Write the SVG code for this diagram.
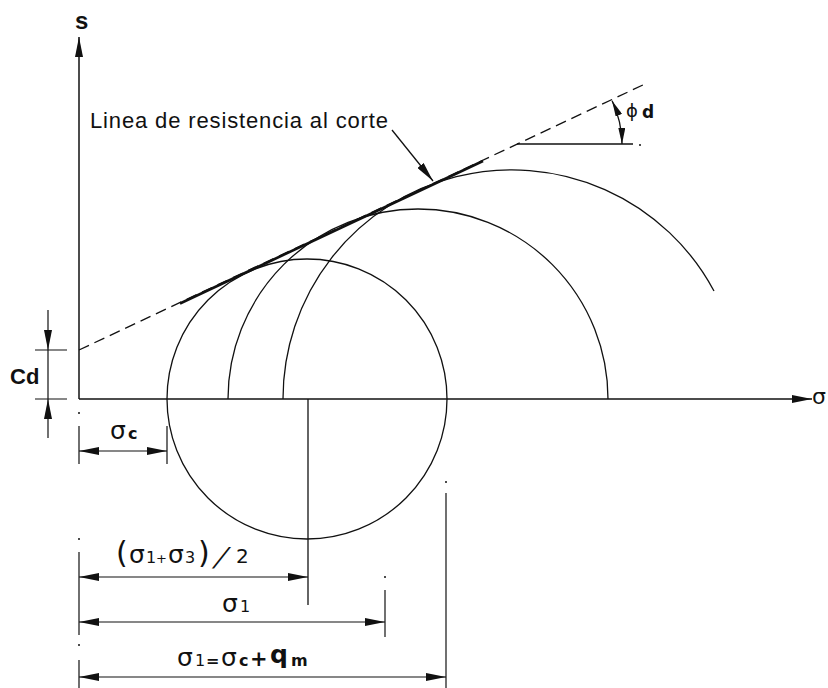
<svg xmlns="http://www.w3.org/2000/svg" width="828" height="688" viewBox="0 0 828 688">
<defs>
<marker id="ah" viewBox="0 0 20 8" refX="20" refY="4" markerWidth="20" markerHeight="8" markerUnits="userSpaceOnUse" orient="auto-start-reverse"><path d="M0,0 L20,4 L0,8 Z" fill="#111"/></marker>
<marker id="ahs" viewBox="0 0 16 7" refX="16" refY="3.5" markerWidth="16" markerHeight="7" markerUnits="userSpaceOnUse" orient="auto-start-reverse"><path d="M0,0 L16,3.5 L0,7 Z" fill="#111"/></marker>
<style>
.ln{stroke:#111;stroke-width:1.3;fill:none}
.ax{stroke:#111;stroke-width:1.5;fill:none}
.dim{stroke:#111;stroke-width:1.2;fill:none;marker-start:url(#ah);marker-end:url(#ah)}
.ext{stroke:#111;stroke-width:1.2;fill:none}
.dot{fill:#111}
.t{font-family:"Liberation Sans",Arial,sans-serif;fill:#111}
.b{font-weight:bold}
.g{font-family:"DejaVu Sans","Liberation Sans",sans-serif;fill:#111}
.gb{font-family:"DejaVu Sans","Liberation Sans",sans-serif;fill:#111;font-weight:bold}
</style>
</defs>
<rect width="828" height="688" fill="#fff"/>

<g id="axes">
<path class="ax" d="M79,399 L79,37" marker-end="url(#ah)"/>
<path class="ax" d="M79,399 L812,399" marker-end="url(#ah)"/>
<text class="t b" x="75" y="29" font-size="24">s</text>
<text class="g" x="812" y="404" font-size="22">σ</text>
</g>

<g id="circles">
<circle class="ln" cx="307" cy="399" r="140"/>
<path class="ln" d="M228,399 A190,190 0 0 1 608,399"/>
<path class="ln" d="M283,399 A229,229 0 0 1 714,291"/>
<path class="ln" d="M308,399 L308,605"/>
</g>

<g id="strength-line">
<path class="ln" d="M79,350 L645,84" stroke-dasharray="11,6"/>
<path d="M180,303.5 L483,161" stroke="#111" stroke-width="2.6" fill="none"/>
<text class="t" x="90" y="128" font-size="22" textLength="298" lengthAdjust="spacing">Linea de resistencia al corte</text>
<path class="ln" d="M392,130 L433,181" marker-end="url(#ah)"/>
</g>

<g id="angle-phi">
<path class="ln" d="M517,144 L633,144"/>
<circle class="dot" cx="640" cy="145" r="1"/>
<path class="ln" d="M612.1,100.8 A104,104 0 0 1 622,144" marker-start="url(#ahs)" marker-end="url(#ahs)"/>
<text class="g" x="626" y="117" font-size="18">ϕ</text>
<text class="gb" x="642" y="118" font-size="17">d</text>
</g>

<g id="dim-cd">
<path class="ext" d="M35,350 L67,350 M35,399 L67,399 M48,350 L48,399"/>
<path class="ext" d="M48,310 L48,350" marker-end="url(#ah)"/>
<path class="ext" d="M48,438 L48,399" marker-end="url(#ah)"/>
<text class="t b" x="10" y="384" font-size="22">Cd</text>
</g>

<g id="dim-sigma-c">
<circle class="dot" cx="79" cy="413" r="1"/>
<path class="ext" d="M79,426 L79,464 M167,426 L167,464"/>
<path class="dim" d="M79,451 L167,451"/>
<text x="110" y="439"><tspan class="g" font-size="25">σ</tspan><tspan class="gb" x="128" font-size="16">c</tspan></text>
</g>

<g id="dim-mean">
<circle class="dot" cx="79" cy="539" r="1"/>
<path class="ext" d="M79,552 L79,635 M79,660 L79,688"/>
<circle class="dot" cx="79" cy="645" r="1"/>
<path class="dim" d="M79,577 L308,577"/>
<text x="116" y="563"><tspan class="g" font-size="30">(</tspan><tspan class="g" x="129" font-size="25">σ</tspan><tspan class="g" x="146" font-size="16">1</tspan><tspan class="g" x="156" font-size="13">+</tspan><tspan class="g" x="168" font-size="25">σ</tspan><tspan class="g" x="185" font-size="16">3</tspan><tspan class="g" x="198" font-size="30">)</tspan></text>
<text class="g" transform="translate(213,566) skewX(-26)" font-size="26">/</text>
<text class="g" x="236" y="563" font-size="20">2</text>
</g>

<g id="dim-sigma1">
<circle class="dot" cx="385" cy="577" r="1"/>
<path class="ext" d="M385,590 L385,637"/>
<path class="dim" d="M79,622 L385,622"/>
<text x="222" y="612"><tspan class="g" font-size="25">σ</tspan><tspan class="g" x="240" font-size="16">1</tspan></text>
</g>

<g id="dim-total">
<circle class="dot" cx="446" cy="482" r="1"/>
<path class="ext" d="M446,493 L446,688"/>
<path class="dim" d="M79,677 L446,677"/>
<text x="177" y="666"><tspan class="g" font-size="25">σ</tspan><tspan class="g" x="195" font-size="16">1</tspan><tspan class="gb" x="206" font-size="16">=</tspan><tspan class="g" x="221" font-size="25">σ</tspan><tspan class="gb" x="239" font-size="16">c</tspan><tspan class="gb" x="250" font-size="21">+</tspan><tspan class="gb" x="270" y="663" font-size="25">q</tspan><tspan class="gb" x="291" y="666" font-size="16">m</tspan></text>
</g>
</svg>
